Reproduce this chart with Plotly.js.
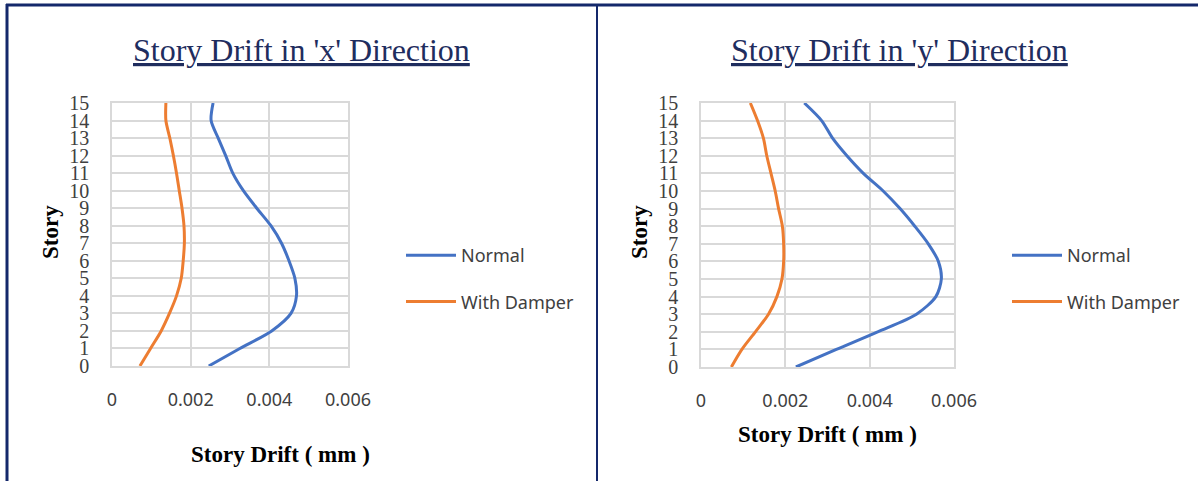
<!DOCTYPE html>
<html>
<head>
<meta charset="utf-8">
<script src="https://cdn.plot.ly/plotly-3.0.1.min.js"></script>
<style>html,body{margin:0;padding:0;background:#fff;}#chart{width:1198px;height:481px;}</style>
</head>
<body>
<div id="chart"></div>
<script>
// ---- data ----
const stories = [0,1,2,3,4,5,6,7,8,9,10,11,12,13,14,15];
const seriesNames = ["Normal", "With Damper"];
const normalX = [0.00246,0.00325,0.00406,0.00455,0.00469,0.00465,0.00450,0.00431,0.00404,0.00368,0.00334,0.00307,0.00289,0.00270,0.00252,0.00257];
const damperX = [0.00071,0.00098,0.00125,0.00146,0.00164,0.00176,0.00181,0.00184,0.00183,0.00178,0.00171,0.00164,0.00156,0.00147,0.00137,0.00137];
const normalY = [0.00225,0.00321,0.00419,0.00511,0.00557,0.00570,0.00563,0.00539,0.00507,0.00472,0.00432,0.00385,0.00346,0.00312,0.00286,0.00245];
const damperY = [0.00072,0.00097,0.00129,0.00160,0.00180,0.00192,0.00196,0.00196,0.00193,0.00184,0.00176,0.00166,0.00156,0.00148,0.00134,0.00117];
const xTicks = [0, 0.002, 0.004, 0.006];
const xTickText = ["0", "0.002", "0.004", "0.006"];
const titles = ["Story Drift in 'x' Direction", "Story Drift in 'y' Direction"];
const xTitle = "Story Drift ( mm )";
const yTitle = "Story";

// ---- layout helpers ----
const W = 1198, H = 481;
const px = x => x / W;
const py = y => 1 - y / H;
const BLUE = "#4472c4", ORANGE = "#ed7d31", NAVY = "#14286b", GRID = "#d9d9d9", TXT = "#404040";

function trace(x, name, color, xa, ya, legend) {
  return {
    x: x, y: stories, type: "scatter", mode: "lines", name: name,
    line: {color: color, width: 3, shape: "spline", smoothing: 0.8},
    xaxis: xa, yaxis: ya, legend: legend, legendgroup: legend + name,
    hoverinfo: "x+y"
  };
}
const data = [
  trace(normalX, seriesNames[0], BLUE, "x", "y", "legend"),
  trace(damperX, seriesNames[1], ORANGE, "x", "y", "legend"),
  trace(normalY, seriesNames[0], BLUE, "x2", "y2", "legend2"),
  trace(damperY, seriesNames[1], ORANGE, "x2", "y2", "legend2")
];

function xaxis(domain, anchor) {
  return {
    domain: domain, anchor: anchor, range: [0, 0.006], tickvals: xTicks, ticktext: xTickText,
    showgrid: true, gridcolor: GRID, gridwidth: 1.5, zeroline: false,
    showline: true, linecolor: GRID, linewidth: 1.5, mirror: true,
    ticks: "", ticklabelstandoff: 17,
    tickfont: {family: "Noto Sans, Liberation Sans, sans-serif", size: 18, color: TXT},
    fixedrange: true
  };
}
function yaxis(domain, anchor) {
  return {
    domain: domain, anchor: anchor, range: [0, 15], dtick: 1, tick0: 0,
    showgrid: true, gridcolor: GRID, gridwidth: 1.5, zeroline: false,
    showline: true, linecolor: GRID, linewidth: 1.5, mirror: true,
    ticks: "", ticklabelstandoff: 17,
    tickfont: {family: "Liberation Serif, Times New Roman, serif", size: 20, color: TXT},
    fixedrange: true
  };
}
function legend(x) {
  return {
    x: px(x), y: py(237), xanchor: "left", yanchor: "top",
    font: {family: "Noto Sans, Liberation Sans, sans-serif", size: 18, color: TXT},
    bgcolor: "rgba(0,0,0,0)", tracegroupgap: 20, traceorder: "grouped", itemwidth: 50
  };
}

const titleFont = {family: "Liberation Serif, Times New Roman, serif", size: 32, color: "#1f2d5e"};
const axTitleFont = {family: "Liberation Serif, Times New Roman, serif", size: 23, color: "#000"};

const layout = {
  width: W, height: H, margin: {l: 0, r: 0, t: 0, b: 0},
  paper_bgcolor: "#fff", plot_bgcolor: "#fff", showlegend: true,
  xaxis: xaxis([px(112), px(348)], "y"),
  yaxis: yaxis([py(366), py(103)], "x"),
  xaxis2: xaxis([px(701), px(954)], "y2"),
  yaxis2: yaxis([py(367), py(103)], "x2"),
  legend: legend(401),
  legend2: legend(1007),
  annotations: [
    {text: "<u>" + titles[0] + "</u>", x: px(301), y: py(50), xref: "paper", yref: "paper", xanchor: "center", yanchor: "middle", showarrow: false, font: titleFont},
    {text: "<u>" + titles[1] + "</u>", x: px(899), y: py(50), xref: "paper", yref: "paper", xanchor: "center", yanchor: "middle", showarrow: false, font: titleFont},
    {text: "<b>" + xTitle + "</b>", x: px(280), y: py(454), xref: "paper", yref: "paper", xanchor: "center", yanchor: "middle", showarrow: false, font: axTitleFont},
    {text: "<b>" + xTitle + "</b>", x: px(827), y: py(434), xref: "paper", yref: "paper", xanchor: "center", yanchor: "middle", showarrow: false, font: axTitleFont},
    {text: "<b>" + yTitle + "</b>", x: px(50), y: py(232), xref: "paper", yref: "paper", xanchor: "center", yanchor: "middle", textangle: -90, showarrow: false, font: axTitleFont},
    {text: "<b>" + yTitle + "</b>", x: px(639), y: py(232), xref: "paper", yref: "paper", xanchor: "center", yanchor: "middle", textangle: -90, showarrow: false, font: axTitleFont}
  ],
  shapes: [
    {type: "line", xref: "paper", yref: "paper", x0: px(6), x1: px(1198), y0: py(5), y1: py(5), line: {color: NAVY, width: 3}},
    {type: "line", xref: "paper", yref: "paper", x0: px(7), x1: px(7), y0: py(4), y1: py(481), line: {color: NAVY, width: 3}},
    {type: "line", xref: "paper", yref: "paper", x0: px(597), x1: px(597), y0: py(5), y1: py(481), line: {color: NAVY, width: 2}}
  ]
};

Plotly.newPlot("chart", data, layout, {displayModeBar: false, responsive: false});
</script>
</body>
</html>
